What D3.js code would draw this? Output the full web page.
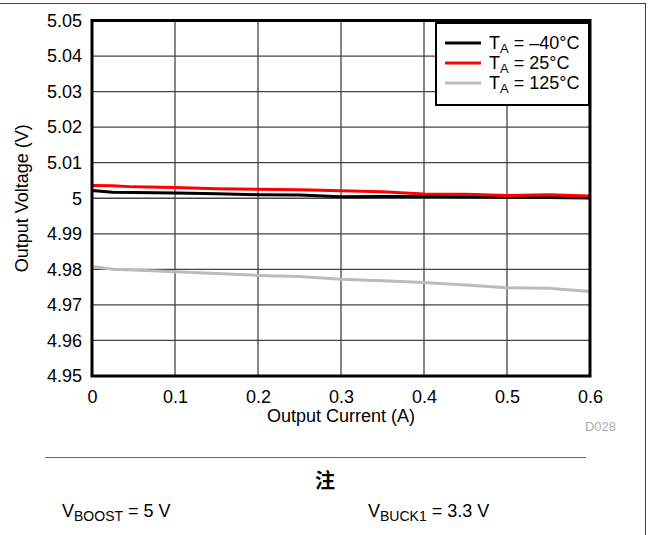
<!DOCTYPE html>
<html>
<head>
<meta charset="utf-8">
<script src="https://cdn.jsdelivr.net/npm/d3@7"></script>
<style>
  body { margin: 0; background: #fff; }
  text { font-family: "Liberation Sans", Arial, sans-serif; }
</style>
</head>
<body>
<svg width="649" height="535"></svg>
<script>
// output current (A)
var current = [0, 0.025, 0.05, 0.1, 0.15, 0.2, 0.25, 0.3, 0.35, 0.4, 0.45, 0.5, 0.55, 0.6];
// output voltage (V) per temperature
var vMinus40 = [5.0022, 5.0017, 5.0016, 5.0015, 5.0013, 5.0010, 5.0009, 5.0004, 5.0005, 5.0005, 5.0004, 5.0003, 5.0002, 5.0001];
var v25 = [5.0036, 5.0035, 5.0032, 5.0030, 5.0027, 5.0025, 5.0024, 5.0021, 5.0018, 5.0012, 5.0011, 5.0008, 5.0010, 5.0006];
var v125 = [4.9808, 4.9800, 4.9798, 4.9793, 4.9788, 4.9783, 4.9780, 4.9772, 4.9768, 4.9763, 4.9756, 4.9748, 4.9747, 4.9738];

var xTicks = [0, 0.1, 0.2, 0.3, 0.4, 0.5, 0.6];
var yTicks = [4.95, 4.96, 4.97, 4.98, 4.99, 5, 5.01, 5.02, 5.03, 5.04, 5.05];

var series = [
  {label: "\u201340\u00b0C", values: vMinus40, color: "#000000"},
  {label: "25\u00b0C", values: v25, color: "#ff0000"},
  {label: "125\u00b0C", values: v125, color: "#bbbbbb"}
];

var svg = d3.select("svg"),
    pLeft = 92, pRight = 590, pTop = 20.5, pBottom = 376;

var x = d3.scaleLinear().domain([0, 0.6]).range([pLeft, pRight]);
var y = d3.scaleLinear().domain([4.95, 5.05]).range([pBottom, pTop]);

// outer frame
svg.append("line").attr("x1", 0).attr("x2", 645).attr("y1", 3.5).attr("y2", 3.5)
    .attr("stroke", "#444").attr("stroke-width", 1);
svg.append("line").attr("x1", 645.5).attr("x2", 645.5).attr("y1", 3).attr("y2", 535)
    .attr("stroke", "#444").attr("stroke-width", 1);

// grid
var g = svg.append("g");
g.selectAll(".vg").data(xTicks).enter().append("line")
    .attr("x1", function(d) { return x(d); }).attr("x2", function(d) { return x(d); })
    .attr("y1", pTop).attr("y2", pBottom)
    .attr("stroke", "#444").attr("stroke-width", 1.3);
g.selectAll(".hg").data(yTicks).enter().append("line")
    .attr("x1", pLeft).attr("x2", pRight)
    .attr("y1", function(d) { return y(d); }).attr("y2", function(d) { return y(d); })
    .attr("stroke", "#444").attr("stroke-width", 1.3);

// axes (labels only)
svg.append("g").attr("transform", "translate(0," + pBottom + ")")
    .call(d3.axisBottom(x).tickValues(xTicks).tickSize(0).tickPadding(14)
      .tickFormat(function(d) { return d === 0 ? "0" : d3.format(".1f")(d); }));
svg.append("g").attr("transform", "translate(" + pLeft + ",0)")
    .call(d3.axisLeft(y).tickValues(yTicks).tickSize(0).tickPadding(10)
      .tickFormat(function(d) { return d === 5 ? "5" : d3.format(".2f")(d); }));
svg.selectAll(".domain").remove();
svg.selectAll(".tick text").attr("font-size", 18).attr("fill", "#000")
    .style("font-family", "'Liberation Sans', Arial, sans-serif");

// lines
var line = d3.line()
    .x(function(d, i) { return x(current[i]); })
    .y(function(d) { return y(d); });

series.forEach(function(s) {
  svg.append("path").datum(s.values)
      .attr("d", line)
      .attr("fill", "none")
      .attr("stroke", s.color)
      .attr("stroke-width", 3)
      .attr("stroke-linejoin", "round");
});

// plot border
svg.append("rect").attr("x", pLeft).attr("y", pTop)
    .attr("width", pRight - pLeft).attr("height", pBottom - pTop)
    .attr("fill", "none").attr("stroke", "#000").attr("stroke-width", 3);

// legend
var lg = svg.append("g");
lg.append("rect").attr("x", 436).attr("y", 23).attr("width", 153).attr("height", 82)
    .attr("fill", "#fff").attr("stroke", "#000").attr("stroke-width", 2);
series.forEach(function(s, i) {
  var ly = 43 + i * 20;
  lg.append("line").attr("x1", 445).attr("x2", 481).attr("y1", ly).attr("y2", ly)
      .attr("stroke", s.color).attr("stroke-width", 3);
  var t = lg.append("text").attr("x", 489).attr("y", ly + 6).attr("font-size", 18);
  t.append("tspan").text("T");
  t.append("tspan").attr("font-size", 13).attr("dy", 4).text("A");
  t.append("tspan").attr("dy", -4).text(" = " + s.label);
});

// axis titles
svg.append("text").attr("x", (pLeft + pRight) / 2).attr("y", 422)
    .attr("text-anchor", "middle").attr("font-size", 18).text("Output Current (A)");
svg.append("text").attr("transform", "translate(28," + ((pTop + pBottom) / 2) + ") rotate(-90)")
    .attr("text-anchor", "middle").attr("font-size", 18).text("Output Voltage (V)");
svg.append("text").attr("x", 616).attr("y", 431).attr("text-anchor", "end")
    .attr("font-size", 13).attr("fill", "#aaa").text("D028");

// note section
svg.append("line").attr("x1", 45).attr("x2", 586).attr("y1", 457.5).attr("y2", 457.5)
    .attr("stroke", "#666").attr("stroke-width", 1);
svg.append("text").attr("x", 325).attr("y", 488).attr("text-anchor", "middle")
    .attr("font-size", 20).attr("font-weight", "bold")
    .style("font-family", "'Noto Sans CJK SC', sans-serif").text("注");

function note(xp, sub, rest) {
  var t = svg.append("text").attr("x", xp).attr("y", 517).attr("font-size", 18);
  t.append("tspan").text("V");
  t.append("tspan").attr("font-size", 14).attr("dy", 4).text(sub);
  t.append("tspan").attr("dy", -4).text(rest);
}
note(62, "BOOST", " = 5 V");
note(368, "BUCK1", " = 3.3 V");
</script>
</body>
</html>
